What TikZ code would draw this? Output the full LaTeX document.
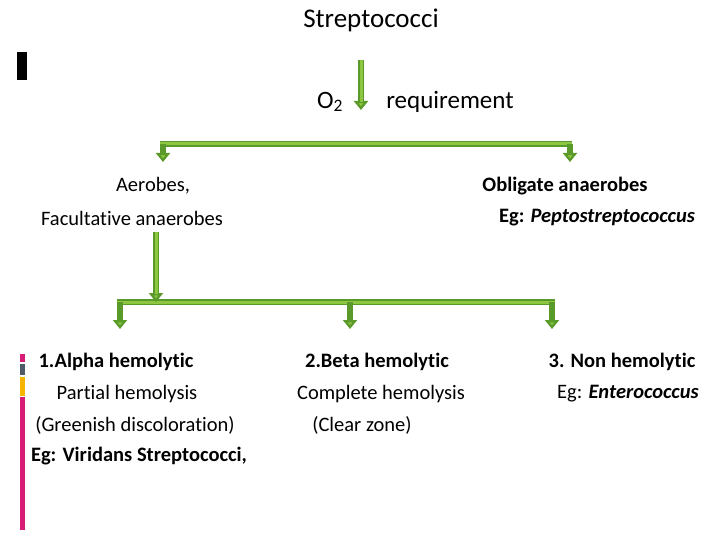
\documentclass[tikz,border=0pt]{standalone}
\usepackage{fontspec}
\setmainfont[Ligatures=NoCommon]{Carlito}
\usetikzlibrary{arrows.meta}
\definecolor{gdark}{HTML}{5A9A2A}
\definecolor{glight}{HTML}{8DC63F}
\definecolor{barpink}{HTML}{D81B74}
\definecolor{bargrey}{HTML}{4F5B66}
\definecolor{baryellow}{HTML}{F4B400}
\tikzset{
  outer/.style={draw=gdark,line width=6pt},
  inner/.style={draw=glight,line width=3pt},
  head/.style={draw=gdark,line width=6pt,-{Triangle[length=9pt,width=14pt,fill=glight]}},
  lbl/.style={font=\fontsize{20.5}{24}\selectfont,inner sep=0pt}
}
\begin{document}
\begin{tikzpicture}[x=1pt,y=-1pt]
  \useasboundingbox (0,0) rectangle (720,540);
  % side bars
  \fill (17,52) rectangle (27,80);
  \fill[barpink] (20,354) rectangle (25,362);
  \fill[bargrey] (20,364) rectangle (25,375);
  \fill[baryellow] (20,377) rectangle (25,396);
  \fill[barpink] (20,397) rectangle (25,530);

  % texts
  \node[lbl,font=\fontsize{27}{30}\selectfont] (title) at (371,20) {Streptococci};
  \node[lbl,font=\fontsize{25}{30}\selectfont] (otwo) at (330,102) {O\textsubscript{2}};
  \node[lbl,font=\fontsize{25}{30}\selectfont] (req) at (450,102) {requirement};
  \node[lbl] (aer) at (153,186) {Aerobes,};
  \node[lbl] (fac) at (132,218) {Facultative anaerobes};
  \node[lbl] (obl) at (565,186) {\textbf{Obligate anaerobes}};
  \node[lbl] (pep) at (597,218) {\textbf{Eg: \textit{Peptostreptococcus}}};
  \node[lbl] (alpha) at (116,362) {\textbf{1.Alpha hemolytic}};
  \node[lbl] (partial) at (127,394) {Partial hemolysis};
  \node[lbl] (green) at (135,425) {(Greenish discoloration)};
  \node[lbl] (virid) at (139,456) {\textbf{Eg: Viridans Streptococci,}};
  \node[lbl] (beta) at (377,362) {\textbf{2.Beta hemolytic}};
  \node[lbl] (complete) at (381,394) {Complete hemolysis};
  \node[lbl] (clear) at (362,425) {(Clear zone)};
  \node[lbl] (non) at (622,362) {\textbf{3. Non hemolytic}};
  \node[lbl] (entero) at (628,394) {Eg: \textbf{\textit{Enterococcus}}};

  % junction points
  \coordinate (top) at (361,60);
  \coordinate (topend) at (361,110);
  \coordinate (barL) at (160,144);
  \coordinate (barR) at (572,144);
  \coordinate (dropL) at (163,162);
  \coordinate (dropR) at (570,162);
  \coordinate (mid) at (156,232);
  \coordinate (midend) at (156,302);
  \coordinate (lowL) at (117,302);
  \coordinate (lowR) at (555,302);
  \coordinate (dA) at (120,329);
  \coordinate (dB) at (350,329);
  \coordinate (dC) at (552,329);

  % bars
  \draw[outer] (barL) -- (barR);
  \draw[outer] (lowL) -- (lowR);
  \draw[inner] (barL) -- (barR);
  \draw[inner] (lowL) -- (lowR);

  % arrows
  \foreach \s/\e in {top/topend, mid/midend} {
    \draw[head] (\s) -- (\e);
    \draw[inner,shorten >=8pt] (\s) -- (\e);
  }
  \foreach \e in {dropL, dropR}
    \draw[head] (\e |- barL) -- (\e);
  \foreach \e in {dA, dB, dC}
    \draw[head] (\e |- lowL) -- (\e);
\end{tikzpicture}
\end{document}
